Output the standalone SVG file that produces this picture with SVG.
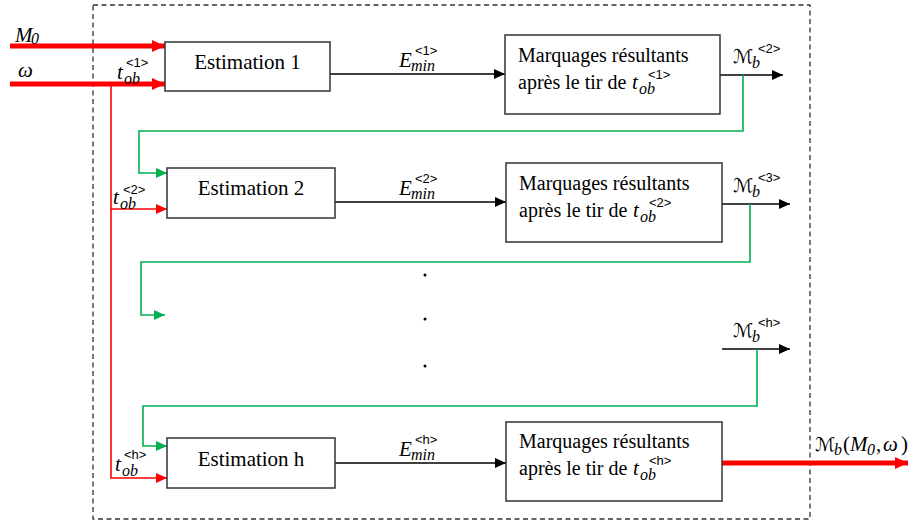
<svg xmlns="http://www.w3.org/2000/svg" width="910" height="521" viewBox="0 0 910 521">
<style>
.box{fill:#fff;stroke:#333;stroke-width:1.5}
.frame{fill:none;stroke:#333;stroke-width:1.3;stroke-dasharray:5,3.5}
.lbl{font-family:"Liberation Serif",serif;font-size:21px;fill:#000}
.lbl2{font-family:"Liberation Serif",serif;font-size:20px;fill:#000}
.m{font-family:"Liberation Serif","DejaVu Serif",serif;font-style:italic;font-size:21px;fill:#000}
.cal{font-family:"DejaVu Sans",sans-serif;font-style:normal;font-size:19px}
.sub{font-family:"Liberation Serif",serif;font-style:italic;font-size:16px}
.sup{font-family:"Liberation Sans",sans-serif;font-style:normal;font-size:13px}
.k{fill:none;stroke:#000;stroke-width:1.3}
.rt{fill:none;stroke:#f00;stroke-width:5}
.rn{fill:none;stroke:#f00;stroke-width:1.6}
.g{fill:none;stroke:#00b050;stroke-width:1.6}
</style>
<defs>
<marker id="ak" markerUnits="userSpaceOnUse" markerWidth="11" markerHeight="10" refX="11" refY="5" orient="auto"><path d="M0,0 L11,5 L0,10 z" fill="#000"/></marker>
<marker id="ar" markerUnits="userSpaceOnUse" markerWidth="13" markerHeight="12" refX="13" refY="6" orient="auto"><path d="M0,0 L13,6 L0,12 z" fill="#f00"/></marker>
<marker id="ars" markerUnits="userSpaceOnUse" markerWidth="11" markerHeight="10" refX="11" refY="5" orient="auto"><path d="M0,0 L11,5 L0,10 z" fill="#f00"/></marker>
<marker id="ag" markerUnits="userSpaceOnUse" markerWidth="11" markerHeight="10" refX="11" refY="5" orient="auto"><path d="M0,0 L11,5 L0,10 z" fill="#00b050"/></marker>
</defs>
<rect class="frame" x="93" y="5" width="717" height="514"/>

<g id="connectors">
<path class="rt" d="M10 46 H165" marker-end="url(#ar)"/>
<path class="rt" d="M10 84 H165" marker-end="url(#ar)"/>
<path class="rn" d="M111 84 V478 H167" marker-end="url(#ars)"/>
<path class="rn" d="M111 209 H167" marker-end="url(#ars)"/>
<path class="k" d="M330 74 H505" marker-end="url(#ak)"/>
<path class="k" d="M335 202 H506" marker-end="url(#ak)"/>
<path class="k" d="M335 463 H506" marker-end="url(#ak)"/>
<path class="k" d="M720 75 H783" marker-end="url(#ak)"/>
<path class="k" d="M722 204 H790" marker-end="url(#ak)"/>
<path class="k" d="M722 349 H790" marker-end="url(#ak)"/>
<path class="rt" d="M722 463 H908" marker-end="url(#ar)"/>
<path class="g" d="M743 75 V131 H139 V173 H167" marker-end="url(#ag)"/>
<path class="g" d="M750 204 V262 H141 V315 H165" marker-end="url(#ag)"/>
<path class="g" d="M757 349 V406 H143 V446 H167" marker-end="url(#ag)"/>
</g>

<g id="labels">
<text class="m" x="15" y="42">M<tspan class="sub" font-style="normal" x="31" y="44">0</tspan></text>
<text class="m" x="18" y="77">ω</text>
<text class="m" x="117" y="79">t<tspan class="sub" x="124" y="84">ob</tspan><tspan class="sup" x="126" y="67">&lt;1&gt;</tspan></text>
<text class="m" x="113" y="204">t<tspan class="sub" x="120" y="209">ob</tspan><tspan class="sup" x="123" y="194">&lt;2&gt;</tspan></text>
<text class="m" x="115" y="471">t<tspan class="sub" x="122" y="476">ob</tspan><tspan class="sup" x="124" y="459">&lt;h&gt;</tspan></text>
<text class="m" x="399" y="67">E<tspan class="sub" x="411" y="71">min</tspan><tspan class="sup" x="415" y="55">&lt;1&gt;</tspan></text>
<text class="m" x="399" y="195">E<tspan class="sub" x="411" y="199">min</tspan><tspan class="sup" x="415" y="183">&lt;2&gt;</tspan></text>
<text class="m" x="399" y="456">E<tspan class="sub" x="411" y="460">min</tspan><tspan class="sup" x="415" y="444">&lt;h&gt;</tspan></text>
<text class="m" x="733" y="63"><tspan class="cal">ℳ</tspan><tspan class="sub" x="752" y="68">b</tspan><tspan class="sup" x="758" y="53">&lt;2&gt;</tspan></text>
<text class="m" x="733" y="192"><tspan class="cal">ℳ</tspan><tspan class="sub" x="752" y="197">b</tspan><tspan class="sup" x="758" y="182">&lt;3&gt;</tspan></text>
<text class="m" x="733" y="337"><tspan class="cal">ℳ</tspan><tspan class="sub" x="752" y="342">b</tspan><tspan class="sup" x="758" y="327">&lt;h&gt;</tspan></text>
<text class="m" x="815" y="451"><tspan class="cal">ℳ</tspan><tspan class="sub" x="834" y="455">b</tspan><tspan font-style="normal" x="843" y="451">(</tspan><tspan>M</tspan><tspan class="sub" font-style="normal" x="867" y="455">0</tspan><tspan font-style="normal" x="876" y="451">,</tspan><tspan x="883">ω</tspan><tspan font-style="normal" x="901">)</tspan></text>
</g>

<g id="dots" fill="#000">
<circle cx="425" cy="275" r="1.5"/>
<circle cx="425" cy="319" r="1.5"/>
<circle cx="425" cy="366" r="1.5"/>
</g>

<g id="est1"><rect class="box" x="165" y="42" width="165" height="49"/><text class="lbl" x="247.5" y="69" text-anchor="middle">Estimation 1</text></g>
<g id="est2"><rect class="box" x="167" y="168" width="168" height="50"/><text class="lbl" x="251" y="195" text-anchor="middle">Estimation 2</text></g>
<g id="esth"><rect class="box" x="167" y="438" width="168" height="50"/><text class="lbl" x="251" y="466" text-anchor="middle">Estimation h</text></g>

<g id="marq1"><rect class="box" x="505" y="35" width="215" height="79"/>
<text class="lbl2" x="518" y="62">Marquages résultants</text>
<text class="lbl2" x="518" y="89">après le tir de</text>
<text class="m" x="632" y="89">t<tspan class="sub" x="639" y="94">ob</tspan><tspan class="sup" x="648" y="79">&lt;1&gt;</tspan></text></g>
<g id="marq2"><rect class="box" x="506" y="163" width="216" height="79"/>
<text class="lbl2" x="519" y="190">Marquages résultants</text>
<text class="lbl2" x="519" y="217">après le tir de</text>
<text class="m" x="633" y="217">t<tspan class="sub" x="640" y="222">ob</tspan><tspan class="sup" x="649" y="207">&lt;2&gt;</tspan></text></g>
<g id="marqh"><rect class="box" x="506" y="422" width="216" height="79"/>
<text class="lbl2" x="519" y="448">Marquages résultants</text>
<text class="lbl2" x="519" y="475">après le tir de</text>
<text class="m" x="633" y="475">t<tspan class="sub" x="640" y="480">ob</tspan><tspan class="sup" x="649" y="465">&lt;h&gt;</tspan></text></g>
</svg>
